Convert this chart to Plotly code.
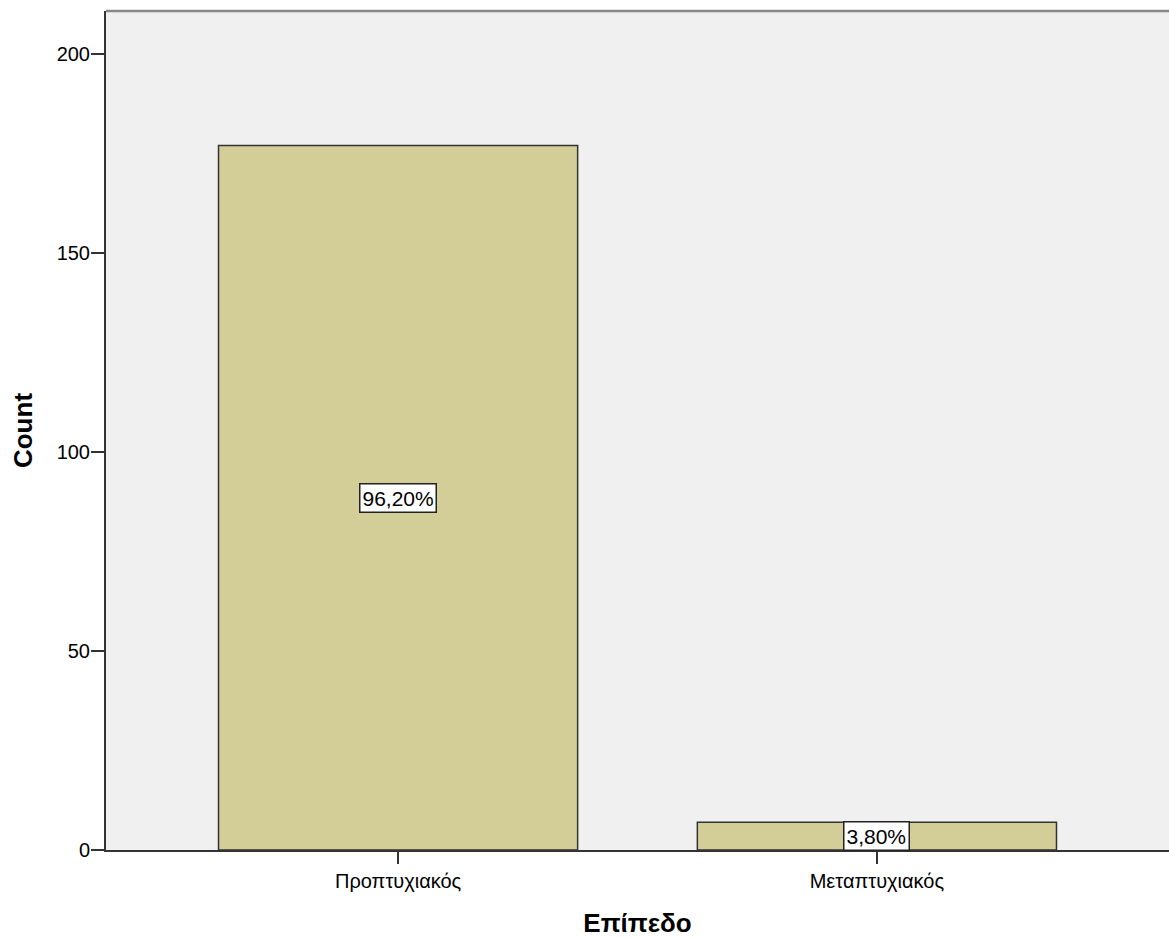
import plotly.graph_objects as go

categories = ["Προπτυχιακός", "Μεταπτυχιακός"]
counts = [177, 7]
percent_labels = ["96,20%", "3,80%"]
y_ticks = [0, 50, 100, 150, 200]

FONT = "Arial, Liberation Sans, sans-serif"

fig = go.Figure()
fig.add_trace(go.Bar(
    x=categories, y=counts, width=0.75,
    marker=dict(color="#D3CE98", line=dict(color="#333333", width=1.5)),
    hoverinfo="x+y",
))

for c, v, lab in zip(categories, counts, percent_labels):
    fig.add_annotation(
        x=c, y=v / 2, text=lab, showarrow=False,
        font=dict(family=FONT, size=21, color="#000000"),
        bgcolor="#FFFFFF", bordercolor="#222222", borderwidth=1.5, borderpad=2,
    )

fig.add_shape(type="line", xref="paper", yref="paper", x0=0, x1=1, y0=1, y1=1,
              line=dict(color="#888888", width=2.5))

fig.update_layout(
    width=1169, height=938,
    margin=dict(l=106, r=0, t=11, b=88),
    paper_bgcolor="#FFFFFF", plot_bgcolor="#F0F0F0",
    font=dict(family=FONT, size=20, color="#000000"),
    showlegend=False,
    xaxis=dict(
        range=[-0.61, 1.61], showgrid=False, zeroline=False,
        showline=True, linecolor="#333333", linewidth=2,
        ticks="outside", ticklen=12, tickwidth=2, tickcolor="#333333",
        tickfont=dict(size=20),
        title=dict(text="<b>Επίπεδο</b>", font=dict(size=26), standoff=23),
    ),
    yaxis=dict(
        range=[0, 210.8], tickvals=y_ticks, showgrid=False, zeroline=False,
        showline=True, linecolor="#333333", linewidth=2,
        ticks="outside", ticklen=13, tickwidth=2, tickcolor="#333333",
        tickfont=dict(size=20), ticklabelstandoff=-3,
        title=dict(text="<b>Count</b>", font=dict(size=26), standoff=17),
    ),
)

fig.write_html(
    "out.html",
    config={"displayModeBar": False},
    post_script="document.body.style.margin='0';"
                "document.documentElement.style.overflow='hidden';"
                "document.body.style.overflow='hidden';",
)
